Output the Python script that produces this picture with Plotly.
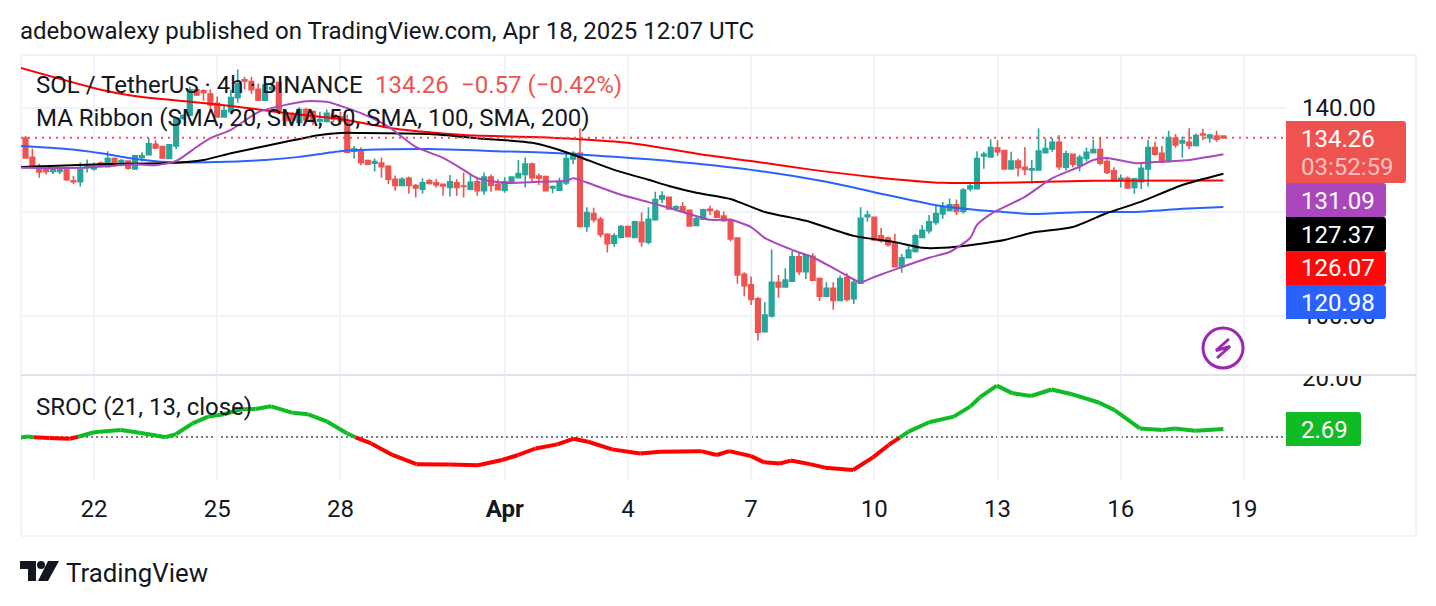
import pandas as pd
import plotly.graph_objects as go

W, H = 1436, 606

# 4h OHLC bars for SOL/USDT
opens = [134.2,130.5,128.8,128.2,127.8,127.8,128.1,126.0,125.8,128.5,128.3,129.4,128.7,130.3,129.0,129.8,128.3,130.5,131.0,133.0,
         132.6,130.3,132.7,138.0,138.6,143.5,143.3,142.7,140.9,138.3,139.3,142.0,145.4,145.1,143.6,141.5,143.6,144.9,139.0,138.7,
         137.2,139.7,139.3,137.5,137.4,138.6,138.3,137.3,131.7,131.9,129.9,129.4,129.4,128.8,126.3,125.1,126.5,125.1,124.4,126.0,
         125.6,125.3,124.7,125.6,125.0,124.4,125.8,124.1,126.7,125.3,124.2,125.7,126.6,127.2,129.2,126.9,126.8,124.6,124.2,125.6,
         130.2,131.3,117.2,119.7,118.6,115.7,114.0,115.1,117.2,115.1,118.0,114.2,118.5,122.5,122.8,120.7,121.0,120.3,117.4,118.6,
         120.5,120.1,119.2,118.5,115.0,108.0,106.0,103.3,97.0,100.0,106.5,105.6,106.7,111.4,108.5,111.5,107.2,103.8,105.3,103.0,
         107.4,103.3,106.3,119.1,119.0,115.4,115.0,114.0,109.5,111.2,112.4,115.1,116.4,118.0,119.6,120.3,121.4,120.1,124.5,124.5,
         130.8,130.6,132.3,131.8,128.3,129.8,128.6,128.1,128.1,131.4,132.1,133.4,128.6,131.1,129.0,130.3,131.4,132.0,129.7,127.9,
         126.3,126.5,124.7,125.8,128.3,132.4,131.3,129.7,134.2,133.3,133.4,132.8,135.0,134.3,134.6,134.6]
highs = [134.6,132.2,129.3,128.6,129.0,128.7,128.2,126.9,129.5,130.1,129.5,129.7,131.7,130.5,130.2,129.9,130.8,131.5,134.2,133.8,
         132.6,132.9,138.0,138.6,144.1,144.0,143.6,143.6,142.2,140.4,143.5,147.4,146.0,146.0,144.7,144.7,144.6,145.0,139.5,139.3,
         140.2,140.0,139.5,139.3,139.7,139.5,139.3,138.7,132.7,132.4,130.1,130.3,130.5,129.0,127.0,126.7,126.8,125.4,126.5,126.4,
         126.3,125.4,127.1,126.3,127.6,127.1,126.7,127.6,127.2,126.3,126.7,126.7,130.0,130.5,129.5,127.4,127.0,125.1,126.6,131.3,
         131.7,136.1,120.9,120.8,119.1,115.9,115.9,117.5,117.4,118.3,119.9,120.9,123.9,124.0,122.9,121.3,121.9,120.4,119.2,120.6,
         121.2,120.5,120.1,118.8,115.1,108.4,107.6,103.7,102.7,112.8,107.9,109.2,112.5,112.2,111.9,112.1,107.4,106.5,106.5,107.8,
         108.2,107.2,120.9,120.3,119.1,116.9,115.3,115.8,111.9,113.5,115.8,117.5,119.4,121.5,121.9,122.6,122.4,124.6,125.5,131.7,
         131.6,134.0,133.8,131.9,131.6,130.3,132.5,130.0,136.1,134.2,134.2,134.8,131.8,131.2,131.0,132.4,133.9,134.4,130.5,128.6,
         127.2,126.8,126.6,129.4,133.9,133.5,132.7,135.6,135.0,134.5,136.1,135.1,136.0,135.0,135.6,134.7]
lows = [130.3,128.4,126.6,127.2,127.3,127.3,126.0,125.4,124.9,127.6,128.0,128.6,128.6,128.7,128.8,128.1,128.2,129.7,130.9,132.1,
        130.2,130.2,132.1,137.8,138.6,142.3,141.4,139.7,138.2,138.1,139.0,141.0,143.6,142.7,141.5,141.5,143.2,139.0,136.5,136.6,
        137.0,137.0,136.7,136.7,137.2,137.3,136.8,131.3,130.3,129.0,129.1,127.8,126.6,125.4,124.1,125.0,123.5,122.8,123.5,125.3,
        124.7,123.1,123.0,123.1,122.8,124.2,123.1,123.3,123.9,124.2,123.7,125.6,126.5,124.7,125.7,125.2,124.0,123.6,124.1,125.2,
        129.2,117.0,116.2,118.0,115.1,112.2,113.3,115.1,115.1,115.0,113.3,113.8,118.3,121.7,120.5,120.3,119.9,117.2,117.3,118.5,
        119.4,118.9,118.1,114.3,106.2,103.8,102.1,95.3,96.9,99.7,103.5,105.5,106.6,107.9,107.1,106.7,102.9,103.6,101.2,102.9,
        102.8,102.3,106.2,118.1,114.5,114.1,113.3,109.4,108.3,111.2,112.2,115.0,115.8,117.5,118.7,120.1,119.4,119.7,124.0,124.4,
        128.3,130.5,130.8,128.1,128.2,126.8,127.1,125.5,128.0,131.3,131.6,128.1,128.0,128.6,127.8,129.7,131.3,129.0,127.3,125.8,
        124.7,124.4,123.5,124.4,124.9,130.8,129.4,129.5,132.4,130.5,132.1,132.6,133.8,133.3,133.5,134.1]
closes = [130.4,128.6,127.7,127.8,128.2,128.2,126.2,125.8,128.2,128.8,128.8,128.8,130.3,129.0,129.9,128.4,130.8,130.8,133.1,132.3,
          130.4,132.9,138.0,138.6,143.5,142.5,143.0,140.6,138.3,139.5,142.0,144.7,145.2,143.5,141.5,144.4,144.0,139.3,137.6,137.7,
          139.7,137.7,137.4,137.8,139.0,137.9,137.5,131.5,132.1,129.5,129.2,129.7,128.7,126.3,125.1,126.3,125.1,124.6,125.6,125.5,
          125.2,125.0,125.8,124.7,124.9,125.7,124.1,126.7,125.1,124.3,125.8,126.7,127.4,129.2,126.6,126.5,124.1,124.9,125.6,130.3,
          131.3,117.2,119.9,118.5,115.7,113.9,115.4,117.2,115.3,118.1,114.3,118.6,122.4,123.1,120.6,121.0,120.1,117.3,118.7,120.4,
          120.3,119.0,118.3,114.8,107.9,105.8,103.2,96.9,100.2,106.5,105.6,106.9,111.4,108.5,111.7,106.9,103.8,105.3,103.0,107.2,
          103.2,106.5,118.8,119.4,114.6,114.5,113.7,109.5,111.2,112.7,115.4,116.5,118.1,119.7,120.9,121.4,120.1,124.2,125.0,130.3,
          131.1,132.4,131.6,128.3,129.8,128.5,128.2,128.3,131.7,132.2,133.4,128.7,131.2,129.2,130.5,131.5,132.0,129.4,127.6,126.0,
          126.5,124.6,126.4,128.4,132.4,131.1,129.6,134.3,132.9,133.7,132.8,134.7,134.8,134.8,134.0,134.26]

# Moving averages, given as (bar number, price) readings
sma20_bar = [-1,8,16,19,22,25,27,30,34,38,41,44,46,49,53,57,61,64,66,70,75,79,80,83,87,91,94,96,100,103,106,108,112,115,119,122,124,128,132,135,138,139,141,146,150,154,156,158,162,165,170,175]
sma20_val = [128.5,128.5,129.2,129.0,129.8,132.5,134.2,135.8,139.2,140.6,141.3,141.2,140.4,139.0,136.4,132.5,130.4,128.1,126.5,125.6,125.8,126.0,126.5,125.2,123.3,121.9,120.8,120.0,118.5,118.5,117.1,115.0,112.7,111.3,108.5,106.5,107.5,109.4,111.2,112.3,115.0,117.5,119.6,122.9,126.5,128.7,130.0,130.4,129.4,129.6,130.0,131.09]
sma50_bar = [-1,11,21,26,30,38,43,46,49,59,66,74,79,86,91,94,98,103,108,114,121,127,131,134,139,143,147,153,158,163,169,175]
sma50_val = [128.65,129.2,129.4,130.0,131.3,133.5,134.8,135.2,135.2,135.0,134.2,133.3,131.5,128.1,126.2,125.0,123.7,122.5,120.0,118.3,115.4,114.2,113.1,113.1,113.8,114.6,116.0,117.1,119.8,122.0,125.2,127.37]
sma100_bar = [-1,6,11,16,21,28,35,40,46,49,59,69,78,86,94,106,117,124,133,139,141,147,155,162,169,175]
sma100_val = [132.7,132.1,131.3,130.2,129.6,129.6,130.0,130.6,131.7,131.9,132.1,131.7,131.3,130.6,129.8,128.1,125.8,123.8,121.3,120.4,120.2,119.6,120.0,120.0,120.6,120.98]
sma200_bar = [-1,11,17,24,30,37,43,46,54,64,74,81,88,94,99,106,115,124,134,142,156,175]
sma200_val = [147.8,143.5,142.1,141.2,140.4,139.2,138.3,137.9,136.0,134.8,134.4,134.0,133.3,132.1,131.0,129.8,128.1,126.7,125.6,125.6,126.0,126.07]

# Smoothed rate of change readings
sroc_bar = [-0.7,0.3,1.2,3.5,6.4,7.7,10,13.9,16.6,19.3,20.4,22,24.4,26.7,29,31.5,33.6,35.9,39,41.3,44.1,47,48.2,50.5,53.6,57.1,61.9,66.1,69.6,72,74.5,77.7,80,82.2,85.7,89.8,92.7,98.7,101,102.8,106,107.9,110.2,111.8,114.6,116.8,120.9,123.8,126.1,127.7,129,132,135.6,138,139.4,141.9,144.2,146.9,149.9,152.7,156.8,159.1,162.8,166.1,167.9,170.9,175]
sroc_val = [-0.2,0.2,-0.1,-0.35,-0.6,0.1,1.6,2.4,1.45,0.45,-0.1,1.0,4.6,6.9,7.7,9.4,9.5,10.4,8.2,7.7,5.2,1.2,-0.1,-2.2,-6.1,-9.2,-9.3,-9.6,-7.8,-6.1,-3.9,-2.5,-0.6,-1.6,-4.2,-5.6,-5.0,-4.8,-6.1,-4.8,-6.5,-8.6,-9.0,-8.0,-9.2,-10.4,-11.2,-6.9,-2.7,-0.2,1.8,5.0,6.9,10.3,13.4,17.4,14.8,13.9,16.1,14.6,11.7,9.1,2.9,2.4,2.9,2.1,2.69]

last_price = 134.26
price_ticks = [140, 120, 100]
price_tick_text = ["140.00", "120.00", "100.00"]
date_ticks = ["2025-03-22", "2025-03-25", "2025-03-28", "2025-04-01", "2025-04-04",
              "2025-04-07", "2025-04-10", "2025-04-13", "2025-04-16", "2025-04-19"]
date_tick_text = ["22", "25", "28", "<b>Apr</b>", "4", "7", "10", "13", "16", "19"]

UP, DOWN = "#26A69A", "#EF5350"
INK = "#131722"
GRID = "#F0F3FA"
GREEN, RED = "#10BB25", "#FF0000"
PURPLE, BLUE = "#AB47BC", "#2962FF"
FONT = "Roboto"


def fx(px):
    return px / W


def fy(py):
    return 1 - py / H


first_bar = pd.Timestamp("2025-03-20 08:00")
times = pd.date_range(first_bar, periods=len(opens), freq="4h")


def bar_time(bars):
    return [first_bar + pd.Timedelta(hours=4 * b) for b in bars]


fig = go.Figure()

fig.add_trace(go.Candlestick(
    x=times, open=opens, high=highs, low=lows, close=closes,
    increasing=dict(line=dict(color=UP, width=1.6), fillcolor=UP),
    decreasing=dict(line=dict(color=DOWN, width=1.6), fillcolor=DOWN),
    whiskerwidth=0, hoverinfo="skip", xaxis="x", yaxis="y",
))

for bars, vals, color in [
    (sma200_bar, sma200_val, RED),
    (sma100_bar, sma100_val, BLUE),
    (sma50_bar, sma50_val, "#000000"),
    (sma20_bar, sma20_val, PURPLE),
]:
    fig.add_trace(go.Scatter(
        x=bar_time(bars), y=vals, mode="lines",
        line=dict(color=color, width=2, shape="spline", smoothing=0.6),
        hoverinfo="skip", xaxis="x", yaxis="y",
    ))

# The SROC line switches colour with the sign of each stretch
for a in range(len(sroc_val) - 1):
    mid = (sroc_val[a] + sroc_val[a + 1]) / 2
    fig.add_trace(go.Scatter(
        x=bar_time(sroc_bar[a:a + 2]), y=sroc_val[a:a + 2], mode="lines",
        line=dict(color=GREEN if mid >= 0 else RED, width=4),
        hoverinfo="skip", xaxis="x2", yaxis="y2",
    ))

shapes = []


def rule(x0, y0, x1, y1, color, width=2, layer="below"):
    shapes.append(dict(type="line", xref="paper", yref="paper",
                       x0=fx(x0), y0=fy(y0), x1=fx(x1), y1=fy(y1),
                       line=dict(color=color, width=width), layer=layer))


def tag(y0, y1, x1, color, r=3):
    path = (f"M {fx(1286)},{fy(y0)} L {fx(x1 - r)},{fy(y0)} Q {fx(x1)},{fy(y0)} {fx(x1)},{fy(y0 + r)} "
            f"L {fx(x1)},{fy(y1 - r)} Q {fx(x1)},{fy(y1)} {fx(x1 - r)},{fy(y1)} L {fx(1286)},{fy(y1)} Z")
    shapes.append(dict(type="path", xref="paper", yref="paper", path=path,
                       fillcolor=color, line=dict(width=0), layer="above"))


def poly(points, color):
    path = "M " + " L ".join(f"{fx(x)},{fy(y)}" for x, y in points) + " Z"
    shapes.append(dict(type="path", xref="paper", yref="paper", path=path,
                       fillcolor=color, line=dict(width=0), layer="above"))


# Chart frame and pane divider
rule(21, 55, 1416, 55, GRID)
rule(21, 55, 21, 536, GRID)
rule(1416, 55, 1416, 536, GRID)
rule(21, 536, 1416, 536, GRID)

# Last price and zero lines
shapes.append(dict(type="line", xref="x domain", yref="y", x0=0, x1=1, y0=last_price, y1=last_price,
                   line=dict(color=DOWN, width=2, dash="2px,5px"), layer="above"))
shapes.append(dict(type="line", xref="x2 domain", yref="y2", x0=0, x1=1, y0=0, y1=0,
                   line=dict(color="#787B86", width=2, dash="2px,3px"), layer="below"))

# Hides the upper part of the oscillator scale label above the pane edge
shapes.append(dict(type="rect", xref="paper", yref="paper", x0=fx(1287), x1=fx(1415),
                   y0=fy(375), y1=fy(358), fillcolor="#FFFFFF", line=dict(width=0), layer="above"))
rule(21, 375, 1416, 375, "#E0E3EB", layer="above")

# Price scale tags
tag(121, 183, 1406, DOWN)
tag(183, 217, 1386, PURPLE)
tag(217, 251, 1386, "#000000")
tag(251, 285, 1386, "#FF0A0A")
tag(285, 319, 1386, BLUE)
tag(412, 446, 1361, GREEN)

# Lightning badge
shapes.append(dict(type="circle", xref="paper", yref="paper", x0=fx(1203), x1=fx(1243), y0=fy(328), y1=fy(368),
                   line=dict(color="#9C27B0", width=3), fillcolor="rgba(255,255,255,0)", layer="above"))
bolt = [(1229, 339), (1216, 350.5), (1230, 346.5), (1217, 358)]
shapes.append(dict(type="path", xref="paper", yref="paper",
                   path="M " + " L ".join(f"{fx(x)},{fy(y)}" for x, y in bolt),
                   line=dict(color="#9C27B0", width=3), layer="above"))

# TradingView mark
poly([(20, 561), (36, 561), (36, 581), (28, 581), (28, 569), (20, 569)], "#131722")
poly([(48, 561), (59, 561), (48, 581), (38, 581)], "#131722")
shapes.append(dict(type="circle", xref="paper", yref="paper", x0=fx(37), x1=fx(45), y0=fy(561), y1=fy(569),
                   fillcolor="#131722", line=dict(width=0), layer="above"))

annotations = []


def label(text, x, y, color=INK, size=24, anchor="left"):
    annotations.append(dict(text=text, x=fx(x), y=fy(y), xref="paper", yref="paper",
                            xanchor=anchor, yanchor="middle", showarrow=False,
                            font=dict(family=FONT, size=size, color=color), align="left",
                            borderpad=0))


label("adebowalexy published on TradingView.com, Apr 18, 2025 12:07 UTC", 19, 31)
label("SOL / TetherUS · 4h · BINANCE", 35, 85)
label("134.26", 374, 85, DOWN)
label("−0.57 (−0.42%)", 460, 85, DOWN)
label("MA Ribbon (SMA, 20, SMA, 50, SMA, 100, SMA, 200)", 35, 118.5)
label("SROC (21, 13, close)", 35, 406.5)
label("TradingView", 65, 572.5, size=25.8)
label("134.26", 1300, 138.5, "#FFFFFF")
label("03:52:59", 1300, 166.5, "rgba(255,255,255,0.65)")
label("131.09", 1300, 201, "#FFFFFF")
label("127.37", 1300, 235, "#FFFFFF")
label("126.07", 1300, 268.5, "#FFFFFF")
label("120.98", 1300, 302.5, "#FFFFFF")
label("2.69", 1300, 429.5, "#FFFFFF")

x_range = ["2025-03-20 05:21", "2025-04-20 00:35"]
common_x = dict(range=x_range, type="date", domain=[fx(21), fx(1286)], automargin=False,
                tickvals=date_ticks, showgrid=True, gridcolor=GRID, gridwidth=2,
                zeroline=False, showline=False, ticks="", rangeslider=dict(visible=False))

fig.update_layout(
    template="none", boxgap=0.05,
    width=W, height=H, margin=dict(l=0, r=0, t=0, b=0, pad=0, autoexpand=False),
    paper_bgcolor="#FFFFFF", plot_bgcolor="#FFFFFF", showlegend=False,
    font=dict(family=FONT, size=24, color=INK),
    xaxis=dict(**common_x, anchor="y", showticklabels=False),
    xaxis2=dict(**common_x, anchor="y2", ticktext=date_tick_text, showticklabels=True,
                tickfont=dict(family=FONT, size=24, color=INK), ticklabelstandoff=12),
    yaxis=dict(domain=[fy(375), fy(55)], range=[88.65, 150.19], side="right", anchor="x", automargin=False,
               tickvals=price_ticks, ticktext=price_tick_text, showgrid=True, gridcolor=GRID, gridwidth=2,
               zeroline=False, showline=False, ticks="", ticklabelstandoff=15,
               tickfont=dict(family=FONT, size=24, color=INK)),
    yaxis2=dict(domain=[fy(480), fy(376)], range=[-14.58, 20.68], side="right", anchor="x2", automargin=False,
                tickvals=[20], ticktext=["20.00"], showgrid=False,
                zeroline=False, showline=False, ticks="", ticklabelstandoff=15,
                tickfont=dict(family=FONT, size=24, color=INK)),
    shapes=shapes, annotations=annotations,
)

fig.write_html("out.html", config=dict(displayModeBar=False))
